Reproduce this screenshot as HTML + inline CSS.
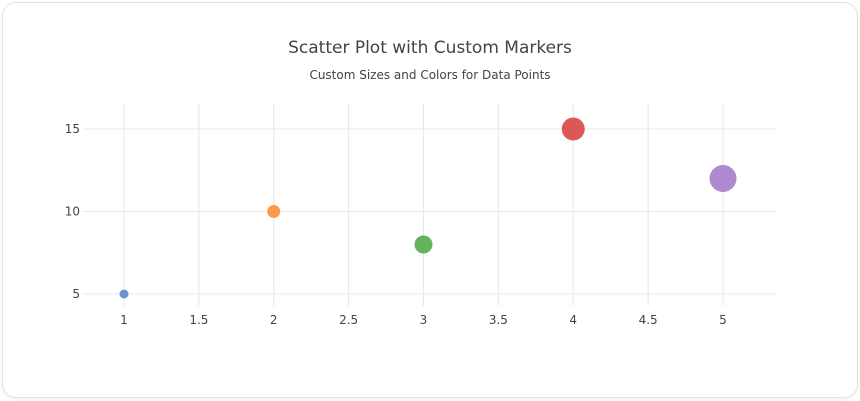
<!DOCTYPE html>
<html><head><meta charset="utf-8"><style>
body{margin:0;background:#fff;font-family:"DejaVu Sans","Liberation Sans",sans-serif;}
.card{position:absolute;left:2px;top:2px;width:854px;height:394px;border:1px solid #e2e2e2;border-radius:14px;background:#fff;box-shadow:0 1px 3px rgba(0,0,0,0.06);}
</style></head><body>
<div class="card"></div>
<svg width="860" height="401" style="position:absolute;left:0;top:0;font-family:'DejaVu Sans','Liberation Sans',sans-serif">
<text x="430" y="53" text-anchor="middle" font-size="17" fill="#444">Scatter Plot with Custom Markers</text>
<text x="430" y="79" text-anchor="middle" font-size="12" fill="#444">Custom Sizes and Colors for Data Points</text>
<g id="grid"></g><g id="marks"></g>
</svg>
<script>
const xVals=[1,2,3,4,5];
const yVals=[5,10,8,15,12];
const sizes=[9,13,18,23,27];
const colors=["#5b8bc5","#fd8e3a","#54aa4e","#d94545","#a47cc8"];
const xTicks=[1,1.5,2,2.5,3,3.5,4,4.5,5];
const yTicks=[5,10,15];
const NS="http://www.w3.org/2000/svg";
const sx=v=>124+(v-1)*149.75;
const sy=v=>294-(v-5)*16.5;
const grid=document.getElementById('grid'),marks=document.getElementById('marks');
function mk(tag,attrs,parent){const e=document.createElementNS(NS,tag);for(const k in attrs)e.setAttribute(k,attrs[k]);parent.appendChild(e);return e;}
xTicks.forEach(t=>{
 const l=mk('line',{x1:sx(t),x2:sx(t),y1:103,y2:306,stroke:'#e8e8e8','stroke-width':1},grid);
 
 
 const tx=mk('text',{x:sx(t),y:324,'text-anchor':'middle','font-size':12,fill:'#444'},grid);
 tx.textContent=t;
 
 
});
yTicks.forEach(t=>{
 const l=mk('line',{x1:83,x2:777,y1:sy(t),y2:sy(t),stroke:'#e8e8e8','stroke-width':1},grid);
 
 
 const tx=mk('text',{x:80,y:sy(t)+4,'text-anchor':'end','font-size':12,fill:'#444'},grid);
 tx.textContent=t;
 
 
});
xVals.forEach((x,i)=>{
 const c=mk('circle',{cx:sx(x),cy:sy(yVals[i]),r:sizes[i]/2,fill:colors[i],'fill-opacity':0.9},marks);
 
 
});
</script>
</body></html>
